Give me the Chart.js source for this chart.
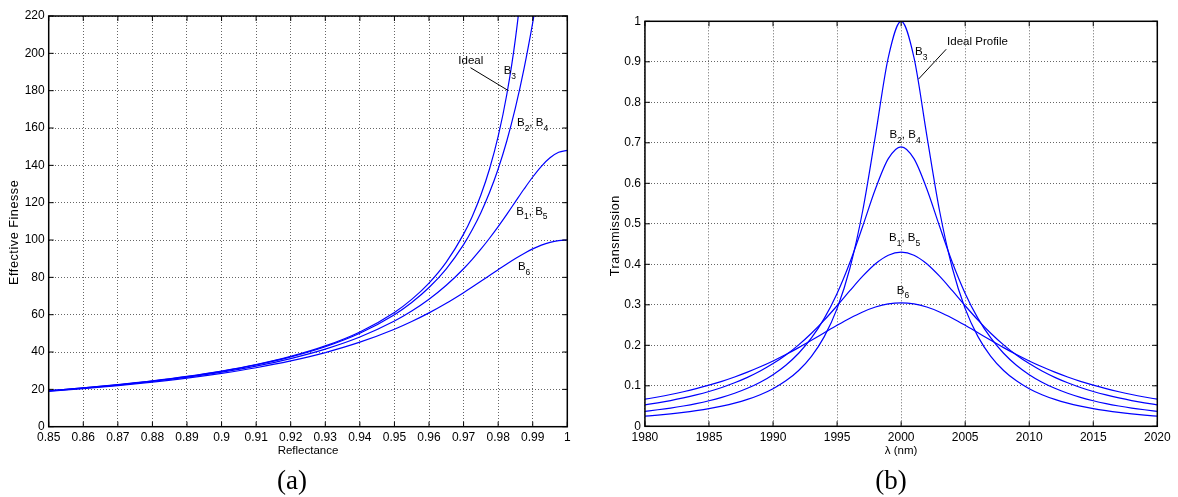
<!DOCTYPE html>
<html>
<head>
<meta charset="utf-8">
<script src="https://cdn.jsdelivr.net/npm/chart.js@4.4.1/dist/chart.umd.min.js"></script>
<style>
    body { margin: 0; background: #fff; width: 1178px; height: 497px; position: relative; overflow: hidden; }
    canvas { position: absolute; top: 0; }
    #chartA { left: 0; }
    #chartB { left: 589px; }
    .caption { position: absolute; top: 465px; width: 100px; line-height: 30px; text-align: center;
               font-family: "Liberation Serif", "Times New Roman", serif; font-size: 27px; color: #000; }
</style>
</head>
<body>
<canvas id="chartA" width="589" height="497"></canvas>
<canvas id="chartB" width="589" height="497"></canvas>
<div class="caption" style="left:242px">(a)</div>
<div class="caption" style="left:841px">(b)</div>
<script>
// (a) effective finesse vs reflectance
const reflectance = [0.85, 0.86, 0.87, 0.88, 0.89, 0.90, 0.91, 0.92, 0.93, 0.94, 0.95, 0.955, 0.96, 0.965,
    0.97, 0.9725, 0.975, 0.9775, 0.98, 0.9825, 0.985, 0.9875, 0.99, 0.9925, 0.995, 0.9975, 1.0];
const finesseIdeal = [19.31, 20.81, 22.54, 24.56, 26.94, 29.80, 33.30, 37.67, 43.28, 50.77, 61.24, 68.22, 76.95, 88.17,
    103.14, 112.66, 124.08, 138.05, 155.50, 177.94, 207.86, 249.75, 312.6, null, null, null, null];
const finesseB24 = [19.27, 20.76, 22.48, 24.48, 26.83, 29.65, 33.10, 37.38, 42.84, 50.06, 60.00, 66.52, 74.54, 84.59,
    97.54, 105.47, 114.66, 125.41, 138.06, 153.04, 170.86, 191.94, 216.45, 243.6, null, null, null];
const finesseB15 = [19.15, 20.61, 22.28, 24.23, 26.50, 29.21, 32.49, 36.51, 41.54, 48.02, 56.59, 61.95, 68.27, 75.75,
    84.62, 89.64, 95.08, 100.95, 107.21, 113.78, 120.56, 127.32, 133.76, 139.49, 144.04, 146.98, 148.0];
const finesseB6 = [18.96, 20.37, 21.99, 23.85, 26.01, 28.56, 31.59, 35.25, 39.72, 45.27, 52.22, 56.35, 60.98, 66.13,
    71.80, 74.79, 77.86, 80.99, 84.11, 87.18, 90.11, 92.83, 95.24, 97.25, 98.75, 99.68, 100.0];
const reflectanceTicks = [0.85, 0.86, 0.87, 0.88, 0.89, 0.90, 0.91, 0.92, 0.93, 0.94, 0.95, 0.96, 0.97, 0.98, 0.99, 1.0];
const reflectanceLabels = ["0.85", "0.86", "0.87", "0.88", "0.89", "0.9", "0.91", "0.92", "0.93", "0.94", "0.95",
    "0.96", "0.97", "0.98", "0.99", "1"];
const finesseTicks = [0, 20, 40, 60, 80, 100, 120, 140, 160, 180, 200, 220];
const finesseLabels = ["0", "20", "40", "60", "80", "100", "120", "140", "160", "180", "200", "220"];

// (b) transmission vs wavelength
const wavelength = [1980, 1981, 1982, 1983, 1984, 1985, 1986, 1987, 1988, 1989, 1990, 1991, 1992, 1993, 1994, 1995,
    1996, 1997, 1998, 1999, 2000, 2001, 2002, 2003, 2004, 2005, 2006, 2007, 2008, 2009, 2010, 2011, 2012, 2013,
    2014, 2015, 2016, 2017, 2018, 2019, 2020];
const transIdeal = [0.0250, 0.0276, 0.0306, 0.0342, 0.0385, 0.0435, 0.0497, 0.0571, 0.0664, 0.0780, 0.0929, 0.1122,
    0.1379, 0.1729, 0.2215, 0.2906, 0.3902, 0.5322, 0.7191, 0.9110, 1.0000, 0.9110, 0.7191, 0.5322, 0.3902, 0.2906,
    0.2215, 0.1729, 0.1379, 0.1122, 0.0929, 0.0780, 0.0664, 0.0571, 0.0497, 0.0435, 0.0385, 0.0342, 0.0306, 0.0276, 0.0250];
const transB24 = [0.0370, 0.0408, 0.0451, 0.0502, 0.0561, 0.0631, 0.0715, 0.0816, 0.0938, 0.1088, 0.1275, 0.1508,
    0.1804, 0.2182, 0.2665, 0.3281, 0.4044, 0.4938, 0.5865, 0.6608, 0.6900, 0.6608, 0.5865, 0.4938, 0.4044, 0.3281,
    0.2665, 0.2182, 0.1804, 0.1508, 0.1275, 0.1088, 0.0938, 0.0816, 0.0715, 0.0631, 0.0561, 0.0502, 0.0451, 0.0408, 0.0370];
const transB15 = [0.0530, 0.0580, 0.0636, 0.0701, 0.0775, 0.0860, 0.0959, 0.1074, 0.1208, 0.1365, 0.1548, 0.1762,
    0.2011, 0.2298, 0.2622, 0.2977, 0.3348, 0.3707, 0.4015, 0.4225, 0.4300, 0.4225, 0.4015, 0.3707, 0.3348, 0.2977,
    0.2622, 0.2298, 0.2011, 0.1762, 0.1548, 0.1365, 0.1208, 0.1074, 0.0959, 0.0860, 0.0775, 0.0701, 0.0636, 0.0580, 0.0530];
const transB6 = [0.0669, 0.0724, 0.0785, 0.0854, 0.0930, 0.1016, 0.1111, 0.1218, 0.1337, 0.1469, 0.1614, 0.1772,
    0.1943, 0.2124, 0.2310, 0.2495, 0.2670, 0.2824, 0.2945, 0.3023, 0.3050, 0.3023, 0.2945, 0.2824, 0.2670, 0.2495,
    0.2310, 0.2124, 0.1943, 0.1772, 0.1614, 0.1469, 0.1337, 0.1218, 0.1111, 0.1016, 0.0930, 0.0854, 0.0785, 0.0724, 0.0669];
const wavelengthTicks = [1980, 1985, 1990, 1995, 2000, 2005, 2010, 2015, 2020];
const wavelengthLabels = ["1980", "1985", "1990", "1995", "2000", "2005", "2010", "2015", "2020"];
const transTicks = [0, 0.1, 0.2, 0.3, 0.4, 0.5, 0.6, 0.7, 0.8, 0.9, 1.0];
const transLabels = ["0", "0.1", "0.2", "0.3", "0.4", "0.5", "0.6", "0.7", "0.8", "0.9", "1"];

Chart.defaults.font.family = '"Liberation Sans", Arial, sans-serif';
Chart.defaults.color = "#000";

const mainFont = '11.5px "Liberation Sans", Arial, sans-serif';
const subFont = '8.5px "Liberation Sans", Arial, sans-serif';
const yTitleFont = '12.5px "Liberation Sans", Arial, sans-serif';

function series(xs, ys) {
    return {
        data: xs.map((x, i) => ({ x: x, y: ys[i] })),
        borderColor: "#0000ff",
        borderWidth: 1.2,
        pointRadius: 0,
        fill: false,
        cubicInterpolationMode: "monotone"
    };
}

function axis(ticks, labels, title, size, vertical) {
    return {
        type: "linear",
        min: ticks[0],
        max: ticks[ticks.length - 1],
        afterBuildTicks: s => { s.ticks = ticks.map(v => ({ value: v })); },
        afterFit: s => { if (vertical) s.width = size; else s.height = size; },
        ticks: { autoSkip: false, maxRotation: 0, padding: 4, font: { size: 12 }, callback: (v, i) => labels[i] },
        grid: { color: "rgba(0,0,0,0.6)", lineWidth: 1, drawTicks: false },
        border: { display: false, dash: [1, 2] },
        // y titles are drawn by the frame plugin (they sit a bit below centre)
        title: { display: !vertical, text: title, padding: 0, font: { size: 11.5, lineHeight: 1 } }
    };
}

// text with "_n" subscripts, e.g. "B_2, B_4"
function drawSub(ctx, x, y, text, align) {
    const parts = text.split(/_(\d)/);
    let width = 0;
    parts.forEach((p, i) => { ctx.font = i % 2 ? subFont : mainFont; width += ctx.measureText(p).width; });
    let cx = align === "center" ? x - width / 2 : x;
    ctx.textAlign = "left";
    ctx.textBaseline = "middle";
    parts.forEach((p, i) => {
        ctx.font = i % 2 ? subFont : mainFont;
        ctx.fillText(p, cx, i % 2 ? y + 5.5 : y);
        cx += ctx.measureText(p).width;
    });
}

// matlab style box, inward ticks and labels
const framePlugin = {
    id: "frame",
    afterDatasetsDraw(chart, args, opts) {
        const { ctx, chartArea: a, scales: { x, y } } = chart;
        ctx.save();
        ctx.strokeStyle = "#000";
        ctx.fillStyle = "#000";
        ctx.lineWidth = 1;
        ctx.beginPath();
        x.ticks.forEach(t => {
            const px = x.getPixelForValue(t.value);
            ctx.moveTo(px, a.bottom); ctx.lineTo(px, a.bottom - 5);
            ctx.moveTo(px, a.top); ctx.lineTo(px, a.top + 5);
        });
        y.ticks.forEach(t => {
            const py = y.getPixelForValue(t.value);
            ctx.moveTo(a.left, py); ctx.lineTo(a.left + 5, py);
            ctx.moveTo(a.right, py); ctx.lineTo(a.right - 5, py);
        });
        (opts.leaders || []).forEach(l => {
            ctx.moveTo(x.getPixelForValue(l[0]), y.getPixelForValue(l[1]));
            ctx.lineTo(x.getPixelForValue(l[2]), y.getPixelForValue(l[3]));
        });
        ctx.stroke();
        ctx.lineWidth = 1.5;
        ctx.strokeRect(a.left, a.top, a.width, a.height);
        (opts.notes || []).forEach(n => {
            drawSub(ctx, x.getPixelForValue(n.x), y.getPixelForValue(n.y), n.text, n.align);
        });
        if (opts.yTitle) {
            ctx.save();
            ctx.translate(opts.yTitle.x, (a.top + a.bottom) / 2 + opts.yTitle.dy);
            ctx.rotate(-Math.PI / 2);
            ctx.font = yTitleFont;
            ctx.letterSpacing = "0.6px";
            ctx.textAlign = "center";
            ctx.textBaseline = "middle";
            ctx.fillText(opts.yTitle.text, 0, 0);
            ctx.restore();
        }
        ctx.restore();
    }
};

function makeChart(id, datasets, xAxis, yAxis, padding, notes, leaders, yTitle) {
    return new Chart(document.getElementById(id), {
        type: "line",
        data: { datasets: datasets },
        options: {
            responsive: false,
            animation: false,
            layout: { padding: padding },
            scales: { x: xAxis, y: yAxis },
            plugins: {
                legend: { display: false },
                tooltip: { enabled: false },
                frame: { notes: notes, leaders: leaders, yTitle: yTitle }
            }
        },
        plugins: [framePlugin]
    });
}

makeChart("chartA",
    [series(reflectance, finesseIdeal), series(reflectance, finesseB24),
     series(reflectance, finesseB15), series(reflectance, finesseB6)],
    axis(reflectanceTicks, reflectanceLabels, "Reflectance", 30.05, false),
    axis(finesseTicks, finesseLabels, "Effective Finesse", 39.4, true),
    { left: 9.3, top: 16, right: 21.7, bottom: 40.25 },
    [
        { x: 0.9721, y: 196.1, text: "Ideal", align: "center" },
        { x: 0.9816, y: 190.4, text: "B_3" },
        { x: 0.98544, y: 162.7, text: "B_2, B_4" },
        { x: 0.98526, y: 115.3, text: "B_1, B_5" },
        { x: 0.98572, y: 85.5, text: "B_6" }
    ],
    [[0.9720, 192.3, 0.9828, 180.2]],
    { text: "Effective Finesse", x: 15, dy: 11 }
);

makeChart("chartB",
    [series(wavelength, transIdeal), series(wavelength, transB24),
     series(wavelength, transB15), series(wavelength, transB6)],
    axis(wavelengthTicks, wavelengthLabels, "λ (nm)", 30.45, false),
    axis(transTicks, transLabels, "Transmission", 35, true),
    { left: 20.95, top: 21.3, right: 20.7, bottom: 40.25 },
    [
        { x: 2003.59, y: 0.9496, text: "Ideal Profile" },
        { x: 2001.09, y: 0.925, text: "B_3" },
        { x: 1999.09, y: 0.719, text: "B_2, B_4" },
        { x: 1999.06, y: 0.465, text: "B_1, B_5" },
        { x: 1999.66, y: 0.335, text: "B_6" }
    ],
    [[2003.52, 0.931, 2001.35, 0.857]],
    { text: "Transmission", x: 26.7, dy: 12 }
);
</script>
</body>
</html>
